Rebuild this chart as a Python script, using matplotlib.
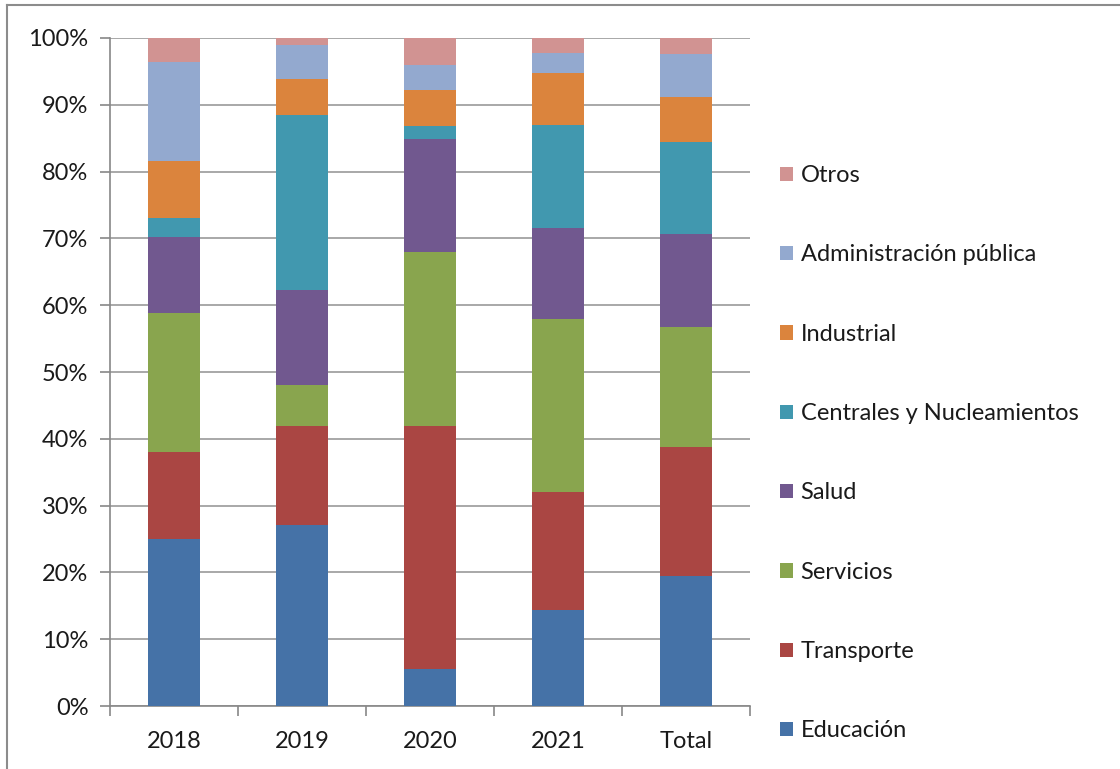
import numpy as np
import matplotlib.pyplot as plt
from matplotlib.lines import Line2D
from matplotlib.ticker import PercentFormatter

# Categories and stacked shares (percent)
years = ["2018", "2019", "2020", "2021", "Total"]
educacion = [25.0, 27.1, 5.5, 14.4, 19.4]
transporte = [13.0, 14.8, 36.4, 17.7, 19.4]
servicios = [20.8, 6.1, 26.1, 25.9, 17.9]
salud = [11.4, 14.3, 16.9, 13.6, 14.0]
centrales = [2.8, 26.1, 1.9, 15.4, 13.8]
industrial = [8.6, 5.5, 5.4, 7.7, 6.6]
administracion = [14.8, 5.0, 3.7, 3.1, 6.5]
otros = [3.6, 1.1, 4.1, 2.2, 2.4]

series = [
    ("Educación", educacion, "#4572A7"),
    ("Transporte", transporte, "#AA4643"),
    ("Servicios", servicios, "#89A54E"),
    ("Salud", salud, "#71588F"),
    ("Centrales y Nucleamientos", centrales, "#4198AF"),
    ("Industrial", industrial, "#DB843D"),
    ("Administración pública", administracion, "#93A9CF"),
    ("Otros", otros, "#D19392"),
]

plt.rcParams["font.family"] = ["Lato", "DejaVu Sans"]

fig = plt.figure(figsize=(11.2, 7.69), dpi=100)
ax = fig.add_axes([0.0982, 0.0819, 0.5714, 0.8687])

x = np.arange(len(years))
bottom = np.zeros(len(years))
handles = []
for name, vals, color in series:
    vals = np.array(vals)
    h = ax.bar(x, vals, 0.4, bottom=bottom, color=color, label=name, zorder=3)
    handles.append(h)
    bottom += vals

ax.set_xlim(-0.5, len(years) - 0.5)
ax.set_ylim(0, 100)
ax.set_yticks(np.arange(0, 101, 10))
ax.yaxis.set_major_formatter(PercentFormatter(decimals=0))
ax.set_xticks(x)
ax.set_xticklabels(years)
ax.set_xticks(np.arange(-0.5, len(years), 1), minor=True)
ax.tick_params(axis="x", which="major", length=0, labelsize=17, pad=18, colors="#1a1a1a")
ax.tick_params(axis="x", which="minor", length=7, color="#888888", width=1.2)
ax.tick_params(axis="y", length=7, color="#888888", width=1.2, labelsize=17, pad=8.5,
               labelcolor="#1a1a1a")
ax.yaxis.grid(True, color="#999999", linewidth=1.2, zorder=0)
for side in ["top", "right"]:
    ax.spines[side].set_visible(False)
for side in ["left", "bottom"]:
    ax.spines[side].set_color("#888888")
    ax.spines[side].set_linewidth(1.2)

leg = fig.legend(handles[::-1], [s[0] for s in series][::-1],
                 loc="upper left", bbox_to_anchor=(0.6884, 0.7975),
                 frameon=False, fontsize=17, labelspacing=2.47,
                 handlelength=0.55, handleheight=0.55, handletextpad=0.3,
                 borderaxespad=0)
for t in leg.get_texts():
    t.set_color("#1a1a1a")

# outer chart border (only top and left edges are visible in the original)
fig.add_artist(Line2D([7 / 1120, 1], [1 - 5 / 769, 1 - 5 / 769], transform=fig.transFigure,
                      color="#8c8c8c", linewidth=1.5))
fig.add_artist(Line2D([7 / 1120, 7 / 1120], [0, 1 - 5 / 769], transform=fig.transFigure,
                      color="#8c8c8c", linewidth=1.5))

fig.savefig("out.png", dpi=100)
